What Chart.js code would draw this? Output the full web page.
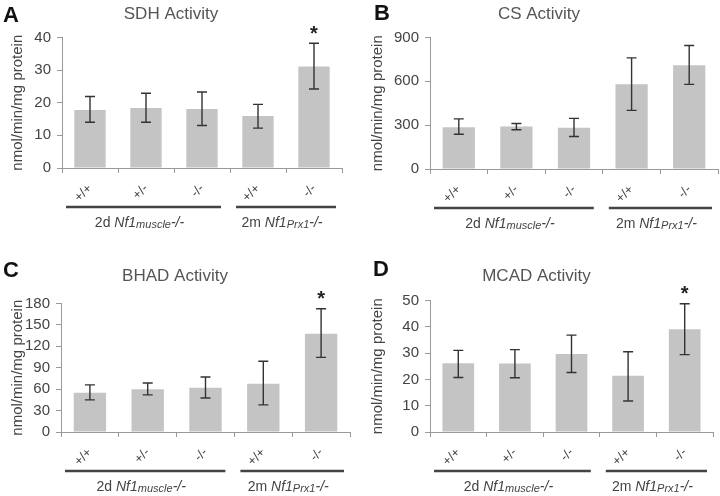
<!DOCTYPE html>
<html>
<head>
<meta charset="utf-8">
<script src="https://cdn.jsdelivr.net/npm/chart.js@4.4.1/dist/chart.umd.min.js"></script>
<style>
  body { margin: 0; background: #fff; width: 720px; height: 496px; position: relative; overflow: hidden; font-family: "Liberation Sans", Arial, sans-serif; }
  .panel { position: absolute; width: 360px; height: 248px; }
  .letter { position: absolute; font-weight: bold; font-size: 22px; line-height: 1; color: #111; }
</style>
</head>
<body>
<div class="panel" style="left:0;top:0"><canvas id="chartA" width="360" height="248"></canvas></div>
<div class="panel" style="left:360px;top:0"><canvas id="chartB" width="360" height="248"></canvas></div>
<div class="panel" style="left:0;top:248px"><canvas id="chartC" width="360" height="248"></canvas></div>
<div class="panel" style="left:360px;top:248px"><canvas id="chartD" width="360" height="248"></canvas></div>
<div class="letter" style="left:3px;top:4px">A</div>
<div class="letter" style="left:374px;top:2px">B</div>
<div class="letter" style="left:3px;top:259px">C</div>
<div class="letter" style="left:373px;top:258px">D</div>

<script>
// genotypes under each bar
const genotypes = ['+/+', '+/-', '-/-', '+/+', '-/-'];
// group captions: plain, italic, small italic, italic
const group1Label = ['2d ', 'Nf1', 'muscle', '-/-'];
const group2Label = ['2m ', 'Nf1', 'Prx1', '-/-'];
const yTitle = 'nmol/min/mg protein';

// SDH
const sdhMean = [17.8, 18.4, 18.1, 15.9, 31.1];
const sdhHigh = [21.9, 22.9, 23.3, 19.5, 38.2];
const sdhLow = [14.0, 14.0, 13.0, 12.2, 24.2];
const sdhSig = [0, 0, 0, 0, 1];

// CS
const csMean = [286, 291, 282, 579, 710];
const csHigh = [343, 311, 346, 760, 845];
const csLow = [238, 268, 222, 401, 579];
const csSig = [0, 0, 0, 0, 0];

// BHAD
const bhadMean = [55, 60, 62, 67.7, 137.6];
const bhadHigh = [66, 68.6, 77, 99, 172.6];
const bhadLow = [45, 52, 47.6, 38, 104.5];
const bhadSig = [0, 0, 0, 0, 1];

// MCAD
const mcadMean = [26.1, 26, 29.6, 21.4, 39];
const mcadHigh = [31, 31.3, 36.8, 30.5, 48.7];
const mcadLow = [20.7, 20.6, 22.6, 11.8, 29.4];
const mcadSig = [0, 0, 0, 0, 1];

const FONT = '"Liberation Sans", Arial, sans-serif';
const TEXT = '#444';
const AXIS = '#999';

/* ---- draws the error bars, stars and the group lines under the axis ---- */
function extrasPlugin(low, high, sig) {
    return {
        id: 'extras',
        afterDatasetsDraw(chart) {
            const ctx = chart.ctx;
            const x = chart.scales.x, y = chart.scales.y;
            ctx.save();
            ctx.strokeStyle = '#333';
            ctx.lineWidth = 1.4;
            low.forEach(function(lo, i) {
                const px = x.getPixelForValue(i);
                const yl = y.getPixelForValue(lo);
                const yh = y.getPixelForValue(high[i]);
                ctx.beginPath();
                ctx.moveTo(px, yl); ctx.lineTo(px, yh);
                ctx.moveTo(px - 5, yl); ctx.lineTo(px + 5, yl);
                ctx.moveTo(px - 5, yh); ctx.lineTo(px + 5, yh);
                ctx.stroke();
                if (sig[i]) {
                    ctx.fillStyle = '#222';
                    ctx.font = 'bold 20px ' + FONT;
                    ctx.textAlign = 'center';
                    ctx.textBaseline = 'middle';
                    ctx.fillText('*', px, yh - 9);
                }
            });
            ctx.restore();
        },
        afterDraw(chart) {
            const ctx = chart.ctx;
            const x = chart.scales.x;
            const base = chart.chartArea.bottom;
            const w = x.getPixelForValue(1) - x.getPixelForValue(0);
            const spans = [
                [x.getPixelForValue(0) - w / 2 + 4, x.getPixelForValue(2) + w / 2 - 9, group1Label],
                [x.getPixelForValue(3) - w / 2 + 6, x.getPixelForValue(4) + w / 2 - 6, group2Label]
            ];
            ctx.save();
            spans.forEach(function(s) {
                ctx.strokeStyle = '#444';
                ctx.lineWidth = 2.4;
                ctx.beginPath();
                ctx.moveTo(s[0], base + 39);
                ctx.lineTo(s[1], base + 39);
                ctx.stroke();

                const parts = [
                    [s[2][0], '14px ' + FONT, 0],
                    [s[2][1], 'italic 14px ' + FONT, 0],
                    [s[2][2], 'italic 11px ' + FONT, 1],
                    [s[2][3], 'italic 14px ' + FONT, 0]
                ];
                let total = 0;
                parts.forEach(function(p) { ctx.font = p[1]; total += ctx.measureText(p[0]).width; });
                let cx = (s[0] + s[1]) / 2 - total / 2 - 4;
                ctx.fillStyle = TEXT;
                ctx.textAlign = 'left';
                ctx.textBaseline = 'alphabetic';
                parts.forEach(function(p) {
                    ctx.font = p[1];
                    ctx.fillText(p[0], cx, base + 59 + p[2]);
                    cx += ctx.measureText(p[0]).width;
                });
            });
            ctx.restore();
        }
    };
}

function makeChart(id, title, mean, low, high, sig, ymax, step, box) {
    const ctx = document.getElementById(id).getContext('2d');
    return new Chart(ctx, {
        type: 'bar',
        data: {
            labels: genotypes,
            datasets: [{
                data: mean,
                backgroundColor: '#c4c4c4',
                borderWidth: 0,
                barPercentage: 0.56,
                categoryPercentage: 1
            }]
        },
        options: {
            responsive: false,
            animation: false,
            devicePixelRatio: 1,
            layout: { padding: { left: 0, right: box.right, top: box.top, bottom: 0 } },
            plugins: {
                legend: { display: false },
                tooltip: { enabled: false },
                title: {
                    display: true,
                    text: title,
                    color: '#555',
                    font: { size: 17, weight: 'normal', family: FONT },
                    padding: { top: 4, bottom: box.titleGap }
                }
            },
            scales: {
                x: {
                    border: { color: AXIS },
                    grid: { drawOnChartArea: false, tickLength: 5, color: AXIS },
                    ticks: { minRotation: 45, maxRotation: 45, color: TEXT, padding: 8, font: { size: 13, family: FONT } },
                    afterFit: function(s) { s.height = box.bottom; }
                },
                y: {
                    min: 0,
                    max: ymax,
                    border: { color: AXIS },
                    grid: { drawOnChartArea: false, tickLength: 5, color: AXIS },
                    ticks: { stepSize: step, color: TEXT, padding: 6, font: { size: 15, family: FONT } },
                    title: { display: true, text: yTitle, color: TEXT, padding: { top: 9, bottom: 0 }, font: { size: 15, family: FONT } },
                    afterFit: function(s) { s.width = box.left; }
                }
            }
        },
        plugins: [extrasPlugin(low, high, sig)]
    });
}

makeChart('chartA', 'SDH Activity', sdhMean, sdhLow, sdhHigh, sdhSig, 40, 10,
    { left: 62, right: 18, top: 0, titleGap: 13, bottom: 80 });
makeChart('chartB', 'CS Activity', csMean, csLow, csHigh, csSig, 900, 300,
    { left: 70, right: 2, top: 0, titleGap: 13, bottom: 79 });
makeChart('chartC', 'BHAD Activity', bhadMean, bhadLow, bhadHigh, bhadSig, 180, 30,
    { left: 61, right: 10, top: 14, titleGap: 17, bottom: 64 });
makeChart('chartD', 'MCAD Activity', mcadMean, mcadLow, mcadHigh, mcadSig, 50, 10,
    { left: 70, right: 7, top: 14, titleGap: 14, bottom: 64 });
</script>
</body>
</html>
